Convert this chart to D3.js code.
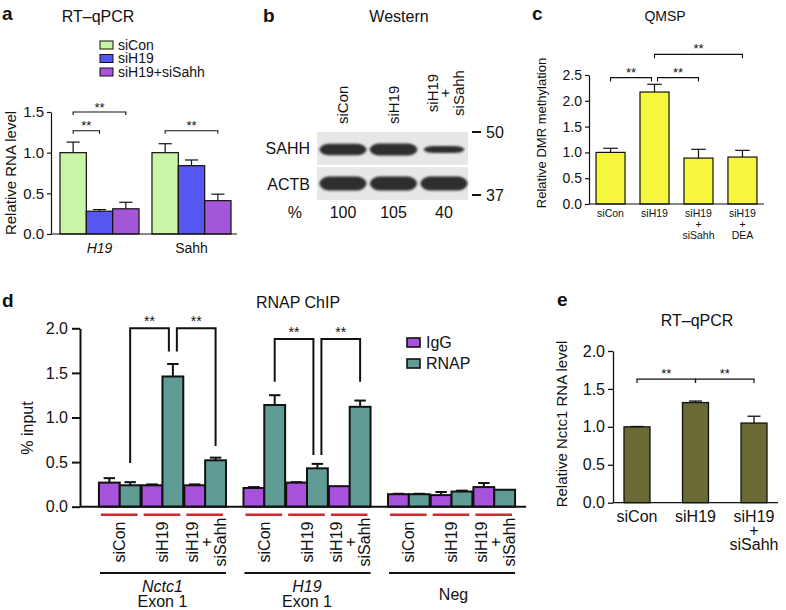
<!DOCTYPE html>
<html><head><meta charset="utf-8">
<script src="https://cdn.jsdelivr.net/npm/d3@7"></script>
<style>
body{margin:0;background:#fff}
svg text{font-family:"Liberation Sans",Arial,Helvetica,sans-serif;fill:#111}
</style></head><body>
<svg id="fig" width="786" height="610"></svg>
<script>
// ================= DATA =================
// Panel a – RT-qPCR
const aGroups = ["H19", "Sahh"];
const aSeries = ["siCon", "siH19", "siH19+siSahh"];
const aValues = [[1.00, 0.28, 0.31], [1.00, 0.84, 0.41]];
const aErrors = [[0.13, 0.02, 0.08], [0.11, 0.07, 0.08]];
const aTicks = [0, 0.5, 1.0, 1.5];
const aSig = [{g: 0, from: 0, to: 1, y: 1.27}, {g: 0, from: 0, to: 2, y: 1.50}, {g: 1, from: 0, to: 2, y: 1.27}];
// Panel b – Western
const bLanes = ["siCon", "siH19", "siH19+siSahh"];
const bProteins = ["SAHH", "ACTB"];
const bPercent = [100, 105, 40];
const bMarkers = [50, 37];
// Panel c – QMSP
const cCats = ["siCon", "siH19", "siH19+siSahh", "siH19+DEA"];
const cValues = [1.00, 2.17, 0.89, 0.91];
const cErrors = [0.08, 0.15, 0.17, 0.13];
const cTicks = [0, 0.5, 1.0, 1.5, 2.0, 2.5];
const cSig = [{from: 0, to: 1, y: 2.45}, {from: 1, to: 2, y: 2.45}, {from: 1, to: 3, y: 2.90}];
// Panel d – RNAP ChIP
const dRegions = ["Nctc1", "H19", "Neg"];
const dConds = ["siCon", "siH19", "siH19+siSahh"];
const dSeries = ["IgG", "RNAP"];
const dIgG = [[0.27, 0.24, 0.24], [0.21, 0.27, 0.23], [0.14, 0.13, 0.22]];
const dIgGErr = [[0.05, 0.01, 0.01], [0.01, 0.005, 0.0], [0.005, 0.035, 0.045]];
const dRNAP = [[0.24, 1.46, 0.52], [1.14, 0.43, 1.12], [0.14, 0.17, 0.19]];
const dRNAPErr = [[0.035, 0.14, 0.03], [0.11, 0.05, 0.07], [0.005, 0.01, 0.0]];
const dTicks = [0, 0.5, 1.0, 1.5, 2.0];
const dSig = [
  {g: 0, from: 0, to: 1, top: 2.00, fromEnd: 0.49, toEnd: 1.74},
  {g: 0, from: 1, to: 2, top: 2.00, fromEnd: 1.74, toEnd: 0.68},
  {g: 1, from: 0, to: 1, top: 1.88, fromEnd: 1.40, toEnd: 0.58},
  {g: 1, from: 1, to: 2, top: 1.88, fromEnd: 0.58, toEnd: 1.40}
];
// Panel e – RT-qPCR Nctc1
const eCats = ["siCon", "siH19", "siH19+siSahh"];
const eValues = [1.00, 1.32, 1.05];
const eErrors = [0.005, 0.02, 0.09];
const eTicks = [0, 0.5, 1.0, 1.5, 2.0];
const eSig = [{from: 0, to: 1, y: 1.63}, {from: 1, to: 2, y: 1.63}];

// ================= HELPERS =================
const svg = d3.select("#fig");
const INK = "#111";

function txt(g, x, y, s, size, o = {}) {
  const t = g.append("text").attr("x", x).attr("y", y).text(s).style("font-size", size + "px");
  if (o.anchor) t.attr("text-anchor", o.anchor);
  if (o.weight) t.style("font-weight", o.weight);
  if (o.italic) t.style("font-style", "italic");
  return t;
}
function mtxt(g, x, y, lines, size, gaps, anchor) {
  const t = g.append("text").attr("x", x).attr("y", y).attr("text-anchor", anchor || "middle").style("font-size", size + "px");
  lines.forEach((s, k) => t.append("tspan").attr("x", x).attr("dy", k === 0 ? 0 : gaps[k - 1]).text(s));
  return t;
}
function vtext(g, x, y, lines, size, anchor, gaps) {
  const t = g.append("text").attr("transform", `translate(${x},${y}) rotate(-90)`)
    .attr("text-anchor", anchor || "middle").style("font-size", size + "px");
  lines.forEach((s, k) => t.append("tspan").attr("x", 0)
    .attr("dy", k === 0 ? size * 0.35 : gaps[k - 1]).text(s));
  return t;
}
function yAxis(g, scale, x, ticks, o) {
  const ax = d3.axisLeft(scale).tickValues(ticks).tickFormat(d3.format(".1f"))
    .tickSize(o.tick).tickSizeOuter(0).tickPadding(o.pad);
  const a = g.append("g").attr("transform", `translate(${x},0)`).call(ax);
  a.select(".domain").attr("stroke", INK).attr("stroke-width", o.sw);
  a.selectAll(".tick line").attr("stroke", INK).attr("stroke-width", o.sw);
  a.selectAll(".tick text").attr("fill", INK).style("font-size", o.fs + "px");
  return a;
}
function errBar(g, cx, y0, y1, cap, sw) {
  g.append("line").attr("x1", cx).attr("x2", cx).attr("y1", y0).attr("y2", y1).attr("stroke", INK).attr("stroke-width", sw);
  g.append("line").attr("x1", cx - cap / 2).attr("x2", cx + cap / 2).attr("y1", y1).attr("y2", y1).attr("stroke", INK).attr("stroke-width", sw);
}
function bracket(g, x1, x2, y, tick, sw) {
  g.append("path").attr("d", `M${x1},${y + tick}V${y}H${x2}V${y + tick}`)
    .attr("fill", "none").attr("stroke", INK).attr("stroke-width", sw);
}
function stars(g, x, y, size) {
  txt(g, x, y, "**", size, {anchor: "middle"});
}
const splitPlus = c => c.includes("+") ? [c.split("+")[0], "+", c.split("+")[1]] : [c];

// ================= PANEL A =================
{
  const g = svg.append("g");
  txt(g, 2, 20, "a", 19, {weight: "bold"});
  txt(g, 98, 22, "RT–qPCR", 16, {anchor: "middle"});
  const yA = d3.scaleLinear().domain([0, 1.5]).range([234, 112]);
  const xA0 = d3.scaleBand().domain(aGroups).range([54, 237]).paddingInner(0.141).paddingOuter(0.065);
  const xA1 = d3.scaleBand().domain(aSeries).range([0, xA0.bandwidth()]);
  const col = d3.scaleOrdinal().domain(aSeries).range(["#cbf5a6", "#5656f0", "#a456d8"]);
  aSeries.forEach((s, i) => {
    g.append("rect").attr("x", 100).attr("y", 41 + i * 13.5).attr("width", 13).attr("height", 8)
      .attr("fill", col(s)).attr("stroke", INK).attr("stroke-width", 1);
  });
  mtxt(g, 118, 49.5, aSeries, 14, [13.5, 13.5], "start");
  aGroups.forEach((grp, gi) => {
    aSeries.forEach((s, si) => {
      const v = aValues[gi][si], e = aErrors[gi][si];
      const x = xA0(grp) + xA1(s), w = xA1.bandwidth();
      g.append("rect").attr("x", x).attr("y", yA(v)).attr("width", w).attr("height", yA(0) - yA(v))
        .attr("fill", col(s)).attr("stroke", INK).attr("stroke-width", 1.2);
      errBar(g, x + w / 2, yA(v), yA(v + e), w * 0.5, 1.2);
    });
    txt(g, xA0(grp) + xA0.bandwidth() / 2, 253, grp, 14, {anchor: "middle", italic: gi === 0});
  });
  g.append("line").attr("x1", 51).attr("x2", xA0.range()[1]).attr("y1", yA(0)).attr("y2", yA(0)).attr("stroke", INK).attr("stroke-width", 1.2);
  yAxis(g, yA, 51, aTicks, {tick: 4, pad: 3, sw: 1.2, fs: 15});
  vtext(g, 11, 173, ["Relative RNA level"], 15);
  aSig.forEach(s => {
    const grp = aGroups[s.g];
    const x1 = xA0(grp) + xA1(aSeries[s.from]) + xA1.bandwidth() / 2;
    const x2 = xA0(grp) + xA1(aSeries[s.to]) + xA1.bandwidth() / 2;
    bracket(g, x1, x2, yA(s.y), 3, 1.1);
    stars(g, (x1 + x2) / 2, yA(s.y) - 0.5, 13);
  });
}

// ================= PANEL B =================
{
  const g = svg.append("g");
  txt(g, 263, 22, "b", 19, {weight: "bold"});
  txt(g, 399, 22, "Western", 16, {anchor: "middle"});
  const defs = svg.append("defs");
  defs.append("filter").attr("id", "blur").attr("x", "-20%").attr("y", "-60%").attr("width", "140%").attr("height", "220%")
    .append("feGaussianBlur").attr("stdDeviation", 1.3);
  const bX = d3.scaleBand().domain(bLanes).range([319, 468]).paddingInner(0.05);
  const bY = d3.scaleBand().domain(bProteins).range([132, 200]).paddingInner(0.06);
  const mw = d3.scaleLog().domain([37, 50]).range([195, 132]);
  const thick = d3.scaleLinear().domain([0, 105]).range([4, 12]);
  bProteins.forEach((p, pi) => {
    g.append("rect").attr("x", bX.range()[0] - 2).attr("y", bY(p)).attr("width", bX.range()[1] - bX.range()[0] + 2)
      .attr("height", bY.bandwidth()).attr("fill", "#e7e7e7");
    txt(g, 310, bY(p) + bY.bandwidth() / 2 + 6, p, 16, {anchor: "end"});
    bLanes.forEach((l, li) => {
      const pct = pi === 0 ? bPercent[li] : 100;
      const w = bX.bandwidth() * (0.76 + 0.24 * pct / 105);
      const h = pi === 0 ? thick(pct) : 14;
      const cx = bX(l) + bX.bandwidth() / 2, cy = bY(p) + bY.bandwidth() / 2 + (pi === 0 ? 1 : 0);
      const x0 = cx - w / 2, x1 = cx + w / 2;
      const path = `M${x0},${cy} C${x0 + 2},${cy - h / 2} ${x0 + 8},${cy - h / 2} ${x0 + 14},${cy - h / 2} L${x1 - 14},${cy - h / 2} C${x1 - 8},${cy - h / 2} ${x1 - 2},${cy - h / 2} ${x1},${cy} C${x1 - 2},${cy + h / 2} ${x1 - 8},${cy + h / 2} ${x1 - 14},${cy + h / 2} L${x0 + 14},${cy + h / 2} C${x0 + 8},${cy + h / 2} ${x0 + 2},${cy + h / 2} ${x0},${cy}Z`;
      g.append("path").attr("d", path).attr("fill", "#2e2e2e").attr("filter", "url(#blur)");
    });
  });
  bLanes.forEach((l, li) => {
    const cx = bX(l) + bX.bandwidth() / 2;
    if (l.includes("+")) {
      vtext(g, cx - 11, 93, splitPlus(l), 15, "middle", [12, 14]);
    } else {
      vtext(g, cx, 124, [l], 15, "start");
    }
    txt(g, cx, 218, String(bPercent[li]), 16, {anchor: "middle"});
  });
  txt(g, 302, 218, "%", 16, {anchor: "end"});
  bMarkers.forEach(m => {
    g.append("line").attr("x1", 472).attr("x2", 481).attr("y1", mw(m)).attr("y2", mw(m)).attr("stroke", INK).attr("stroke-width", 2);
    txt(g, 486, mw(m) + 6, String(m), 16);
  });
}

// ================= PANEL C =================
{
  const g = svg.append("g");
  txt(g, 532, 20, "c", 19, {weight: "bold"});
  txt(g, 665, 21, "QMSP", 14, {anchor: "middle"});
  const yC = d3.scaleLinear().domain([0, 2.5]).range([204, 75]);
  const xC = d3.scaleBand().domain(cCats).range([589, 764]).paddingInner(0.34).paddingOuter(0.16);
  cCats.forEach((c, i) => {
    const x = xC(c), w = xC.bandwidth(), v = cValues[i];
    g.append("rect").attr("x", x).attr("y", yC(v)).attr("width", w).attr("height", yC(0) - yC(v))
      .attr("fill", "#f6f63c").attr("stroke", INK).attr("stroke-width", 1.2);
    errBar(g, x + w / 2, yC(v), yC(v + cErrors[i]), w * 0.5, 1.2);
    mtxt(g, x + w / 2, 217, splitPlus(c), 10.5, [11, 11]);
  });
  g.append("line").attr("x1", 589).attr("x2", xC.range()[1]).attr("y1", yC(0)).attr("y2", yC(0)).attr("stroke", INK).attr("stroke-width", 1.2);
  yAxis(g, yC, 589, cTicks, {tick: 4, pad: 3, sw: 1.2, fs: 14});
  vtext(g, 541, 133, ["Relative DMR methylation"], 13);
  cSig.forEach(s => {
    const x1 = xC(cCats[s.from]) + xC.bandwidth() / 2 + (s.from === 1 && s.to === 2 ? 3 : 0);
    const x2 = xC(cCats[s.to]) + xC.bandwidth() / 2 - (s.from === 0 ? 3 : 0);
    bracket(g, x1, x2, yC(s.y), 4, 1.1);
    stars(g, (x1 + x2) / 2, yC(s.y) - 1, 13);
  });
}

// ================= PANEL D =================
{
  const g = svg.append("g");
  txt(g, 2, 307, "d", 19, {weight: "bold"});
  txt(g, 298, 308, "RNAP ChIP", 16, {anchor: "middle"});
  const yD = d3.scaleLinear().domain([0, 2]).range([506.7, 328.3]);
  const xD0 = d3.scaleBand().domain(dRegions).range([80, 534]).paddingInner(0.121).paddingOuter(0.131);
  const xD1 = d3.scaleBand().domain(dConds).range([0, xD0.bandwidth()]).paddingInner(0.025);
  const xD2 = d3.scaleBand().domain(dSeries).range([0, xD1.bandwidth()]);
  const col = d3.scaleOrdinal().domain(dSeries).range(["#a752dc", "#5f9c96"]);
  const vals = {IgG: dIgG, RNAP: dRNAP}, errs = {IgG: dIgGErr, RNAP: dRNAPErr};
  dRegions.forEach((r, ri) => {
    const gx = xD0(r);
    dConds.forEach((c, ci) => {
      dSeries.forEach(s => {
        const v = vals[s][ri][ci], e = errs[s][ri][ci];
        const x = gx + xD1(c) + xD2(s), w = xD2.bandwidth();
        g.append("rect").attr("x", x).attr("y", yD(v)).attr("width", w).attr("height", yD(0) - yD(v))
          .attr("fill", col(s)).attr("stroke", INK).attr("stroke-width", 2);
        if (e > 0) errBar(g, x + w / 2, yD(v), yD(v + e), w * 0.55, 2);
      });
      const px = gx + xD1(c), pw = xD1.bandwidth(), pc = px + pw / 2;
      g.append("line").attr("x1", px + 2).attr("x2", px + pw - 3).attr("y1", yD(0) + 8).attr("y2", yD(0) + 8)
        .attr("stroke", "#d2262a").attr("stroke-width", 2.5);
      if (c.includes("+")) {
        vtext(g, pc - 13, 542, splitPlus(c), 16, "middle", [14, 14]);
      } else {
        vtext(g, pc, 542, [c], 16, "middle");
      }
    });
    g.append("line").attr("x1", gx + 1).attr("x2", gx + xD0.bandwidth()).attr("y1", 573).attr("y2", 573)
      .attr("stroke", INK).attr("stroke-width", 2);
    const gc = gx + xD0.bandwidth() / 2;
    if (r === "Neg") {
      txt(g, gc + 2, 600, r, 16, {anchor: "middle"});
    } else {
      const t = g.append("text").attr("x", gc).attr("y", 592).attr("text-anchor", "middle").style("font-size", "16px");
      t.append("tspan").attr("x", gc).style("font-style", "italic").text(r);
      t.append("tspan").attr("x", gc).attr("dy", 15).text("Exon 1");
    }
  });
  const lastG = xD0(dRegions[dRegions.length - 1]) + xD0.bandwidth();
  g.append("line").attr("x1", 80).attr("x2", lastG + 11).attr("y1", yD(0)).attr("y2", yD(0)).attr("stroke", INK).attr("stroke-width", 2);
  yAxis(g, yD, 80, dTicks, {tick: 8, pad: 4, sw: 2, fs: 16});
  vtext(g, 27, 428, ["% input"], 16);
  dSeries.forEach((s, i) => {
    g.append("rect").attr("x", 407).attr("y", 338 + i * 21).attr("width", 13).attr("height", 9)
      .attr("fill", col(s)).attr("stroke", INK).attr("stroke-width", 1.6);
    txt(g, 426, 348 + i * 21, s, 16);
  });
  dSig.forEach(s => {
    const r = dRegions[s.g];
    const cxOf = ci => xD0(r) + xD1(dConds[ci]) + xD2("RNAP") + xD2.bandwidth() / 2;
    const x1 = cxOf(s.from) + (s.from === 1 ? 4 : 0);
    const x2 = cxOf(s.to) - (s.to === 1 ? 4 : 0);
    g.append("path").attr("d", `M${x1},${yD(s.fromEnd)}V${yD(s.top)}H${x2}V${yD(s.toEnd)}`)
      .attr("fill", "none").attr("stroke", INK).attr("stroke-width", 2);
    stars(g, (x1 + x2) / 2, yD(s.top) - 2.5, 14);
  });
}

// ================= PANEL E =================
{
  const g = svg.append("g");
  txt(g, 557, 306, "e", 19, {weight: "bold"});
  txt(g, 697, 326, "RT–qPCR", 16, {anchor: "middle"});
  const yE = d3.scaleLinear().domain([0, 2]).range([502.7, 351]);
  const xE = d3.scaleBand().domain(eCats).range([613, 778]).paddingInner(0.556).paddingOuter(0.188);
  eCats.forEach((c, i) => {
    const x = xE(c), w = xE.bandwidth(), v = eValues[i];
    g.append("rect").attr("x", x).attr("y", yE(v)).attr("width", w).attr("height", yE(0) - yE(v))
      .attr("fill", "#6a6a34").attr("stroke", INK).attr("stroke-width", 1.3);
    errBar(g, x + w / 2, yE(v), yE(v + eErrors[i]), w * 0.5, 1.3);
    mtxt(g, x + w / 2, 522, splitPlus(c), 16, [14, 14]);
  });
  g.append("line").attr("x1", 613).attr("x2", xE.range()[1]).attr("y1", yE(0)).attr("y2", yE(0)).attr("stroke", INK).attr("stroke-width", 1.3);
  yAxis(g, yE, 613, eTicks, {tick: 5, pad: 3, sw: 1.3, fs: 16});
  vtext(g, 562, 424, ["Relative Nctc1 RNA level"], 15);
  eSig.forEach(s => {
    const x1 = xE(eCats[s.from]) + xE.bandwidth() / 2;
    const x2 = xE(eCats[s.to]) + xE.bandwidth() / 2;
    bracket(g, x1, x2, yE(s.y), 4, 1.2);
    stars(g, (x1 + x2) / 2, yE(s.y) - 1, 13);
  });
}
</script>
</body></html>
